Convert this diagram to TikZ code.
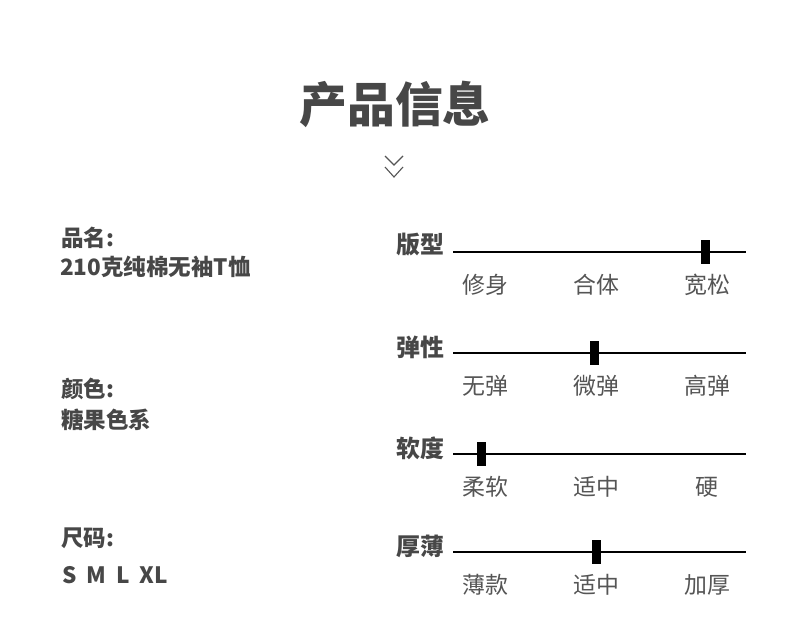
\documentclass[tikz,border=0pt]{standalone}
\usepackage{fontspec}
\setmainfont{Noto Sans CJK SC}
\usepackage{tikz}

\definecolor{inkgray}{HTML}{474747}
\definecolor{softgray}{HTML}{555555}

\begin{document}
\begin{tikzpicture}[x=1bp, y=-1bp,
  heading/.style={text=inkgray, font=\bfseries\fontsize{48}{52}\selectfont},
  infolabel/.style={anchor=west, inner sep=0pt, text=inkgray, font=\bfseries\fontsize{22.6}{27}\selectfont},
  rowlabel/.style={anchor=west, inner sep=0pt, text=inkgray, font=\bfseries\fontsize{24}{28}\selectfont},
  tick/.style={inner sep=0pt, text=softgray, font=\fontsize{23}{27}\selectfont},
  scaleline/.style={line width=1.1bp},
  knob/.style={fill=black, inner sep=0pt, minimum width=9bp, minimum height=24bp}]
  \useasboundingbox[fill=white] (0,0) rectangle (790,629);

  % title and chevrons
  \node[heading] (title) at (395,104) {产品信息};
  \draw[softgray, line width=1.1bp] (385,156) -- (394,165) -- (403,156)
                                    (385,167) -- (394,177) -- (403,167);

  % left column
  \node[infolabel] (name) at (61,238) {品名:};
  \node[infolabel] (namev) at (60,267) {210克纯棉无袖T恤};
  \node[infolabel] (color) at (61,389) {颜色:};
  \node[infolabel] (colorv) at (61,420) {糖果色系};
  \node[infolabel] (size) at (61,538) {尺码:};
  \node[infolabel] (sizev) at (62,575) {S\hspace{10bp}M\hspace{10bp}L\hspace{10bp}XL};

  % fit
  \node[rowlabel] (fit) at (396,245) {版型};
  \coordinate (fitA) at (453,252);
  \coordinate (fitB) at (746,252);
  \draw[scaleline] (fitA) -- (fitB);
  \node[knob] (fitknob) at (705.5,252) {};
  \node[tick] (fit1) at (485,285) {修身};
  \node[tick] (fit2) at (596,285) {合体};
  \node[tick] (fit3) at (707,285) {宽松};

  % stretch
  \node[rowlabel] (stretch) at (396,347) {弹性};
  \coordinate (stretchA) at (453,353);
  \coordinate (stretchB) at (746,353);
  \draw[scaleline] (stretchA) -- (stretchB);
  \node[knob] (stretchknob) at (594,353) {};
  \node[tick] (stretch1) at (485,386) {无弹};
  \node[tick] (stretch2) at (596,386) {微弹};
  \node[tick] (stretch3) at (707,386) {高弹};

  % softness
  \node[rowlabel] (soft) at (396,448) {软度};
  \coordinate (softA) at (453,454);
  \coordinate (softB) at (746,454);
  \draw[scaleline] (softA) -- (softB);
  \node[knob] (softknob) at (481.5,454) {};
  \node[tick] (soft1) at (485,487) {柔软};
  \node[tick] (soft2) at (596,487) {适中};
  \node[tick] (soft3) at (707,487) {硬};

  % thickness
  \node[rowlabel] (thick) at (396,546) {厚薄};
  \coordinate (thickA) at (453,552);
  \coordinate (thickB) at (746,552);
  \draw[scaleline] (thickA) -- (thickB);
  \node[knob] (thickknob) at (596.5,552) {};
  \node[tick] (thick1) at (485,585) {薄款};
  \node[tick] (thick2) at (596,585) {适中};
  \node[tick] (thick3) at (707,585) {加厚};
\end{tikzpicture}
\end{document}
